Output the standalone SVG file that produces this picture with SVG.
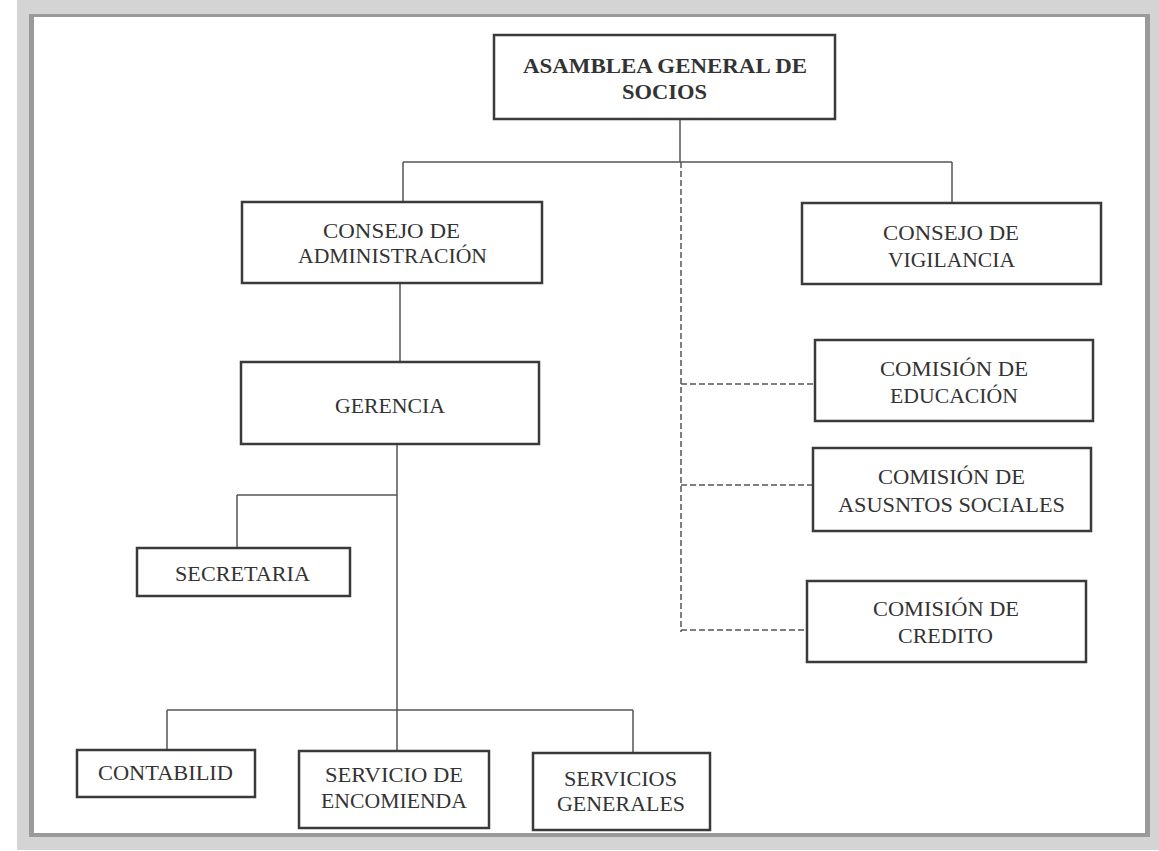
<svg xmlns="http://www.w3.org/2000/svg" width="1159" height="851" viewBox="0 0 1159 851">
<style>
.box{fill:#fff;stroke:#3a3a3a;stroke-width:2.5}
.t{font-family:"Liberation Serif","Times New Roman",serif;font-size:20px;fill:#333;text-anchor:middle}
.b{font-weight:bold}
.ln{stroke:#555;stroke-width:1.5;fill:none}
.ds{stroke:#555;stroke-width:1.5;fill:none;stroke-dasharray:6 3}
</style>
<rect x="0" y="0" width="1159" height="851" fill="#fff"/>
<rect x="17" y="0" width="1142" height="850" fill="#d4d4d4"/>
<rect x="29" y="14" width="1121" height="823" fill="#9a9a9a"/>
<rect x="34" y="17" width="1111" height="816" fill="#fff"/>
<g id="connectors">
<line class="ln" x1="680" y1="119" x2="680" y2="162"/>
<line class="ln" x1="403" y1="162" x2="952" y2="162"/>
<line class="ln" x1="403" y1="162" x2="403" y2="202"/>
<line class="ln" x1="952" y1="162" x2="952" y2="203"/>
<line class="ds" x1="681" y1="162" x2="681" y2="632"/>
<line class="ds" x1="681" y1="384" x2="815" y2="384"/>
<line class="ds" x1="681" y1="485" x2="813" y2="485"/>
<line class="ds" x1="681" y1="630" x2="807" y2="630"/>
<line class="ln" x1="400" y1="283" x2="400" y2="362"/>
<line class="ln" x1="397" y1="444" x2="397" y2="751"/>
<line class="ln" x1="237" y1="495" x2="397" y2="495"/>
<line class="ln" x1="237" y1="495" x2="237" y2="548"/>
<line class="ln" x1="167" y1="710" x2="633" y2="710"/>
<line class="ln" x1="167" y1="710" x2="167" y2="750"/>
<line class="ln" x1="633" y1="710" x2="633" y2="753"/>
</g>
<g id="asamblea">
<rect class="box" x="494" y="35" width="341" height="84"/>
<text class="t b" x="665" y="73" textLength="284" lengthAdjust="spacingAndGlyphs">ASAMBLEA GENERAL DE</text>
<text class="t b" x="664.5" y="99" textLength="85" lengthAdjust="spacingAndGlyphs">SOCIOS</text>
</g>
<g id="consejo-admin">
<rect class="box" x="242" y="202" width="300" height="81"/>
<text class="t" x="391.5" y="238" textLength="137" lengthAdjust="spacingAndGlyphs">CONSEJO DE</text>
<text class="t" x="392.5" y="263" textLength="189" lengthAdjust="spacingAndGlyphs">ADMINISTRACIÓN</text>
</g>
<g id="consejo-vigilancia">
<rect class="box" x="802" y="203" width="299" height="81"/>
<text class="t" x="951" y="240" textLength="136" lengthAdjust="spacingAndGlyphs">CONSEJO DE</text>
<text class="t" x="951.5" y="267" textLength="127" lengthAdjust="spacingAndGlyphs">VIGILANCIA</text>
</g>
<g id="comision-educacion">
<rect class="box" x="815" y="340" width="278" height="81"/>
<text class="t" x="954" y="376" textLength="148" lengthAdjust="spacingAndGlyphs">COMISIÓN DE</text>
<text class="t" x="954" y="403" textLength="128" lengthAdjust="spacingAndGlyphs">EDUCACIÓN</text>
</g>
<g id="comision-asuntos">
<rect class="box" x="813" y="448" width="278" height="83"/>
<text class="t" x="951.5" y="484" textLength="147" lengthAdjust="spacingAndGlyphs">COMISIÓN DE</text>
<text class="t" x="951.5" y="512" textLength="227" lengthAdjust="spacingAndGlyphs">ASUSNTOS SOCIALES</text>
</g>
<g id="comision-credito">
<rect class="box" x="807" y="581" width="279" height="81"/>
<text class="t" x="946" y="616" textLength="146" lengthAdjust="spacingAndGlyphs">COMISIÓN DE</text>
<text class="t" x="945.5" y="643" textLength="95" lengthAdjust="spacingAndGlyphs">CREDITO</text>
</g>
<g id="gerencia">
<rect class="box" x="241" y="362" width="298" height="82"/>
<text class="t" x="390" y="413" textLength="110" lengthAdjust="spacingAndGlyphs">GERENCIA</text>
</g>
<g id="secretaria">
<rect class="box" x="137" y="548" width="213" height="48"/>
<text class="t" x="242.5" y="581" textLength="135" lengthAdjust="spacingAndGlyphs">SECRETARIA</text>
</g>
<g id="contabilid">
<rect class="box" x="77" y="750" width="178" height="47"/>
<text class="t" x="165.5" y="780" textLength="135" lengthAdjust="spacingAndGlyphs">CONTABILID</text>
</g>
<g id="servicio-encomienda">
<rect class="box" x="299" y="751" width="190" height="77"/>
<text class="t" x="394" y="782" textLength="138" lengthAdjust="spacingAndGlyphs">SERVICIO DE</text>
<text class="t" x="394" y="808" textLength="146" lengthAdjust="spacingAndGlyphs">ENCOMIENDA</text>
</g>
<g id="servicios-generales">
<rect class="box" x="533" y="753" width="177" height="77"/>
<text class="t" x="620.5" y="786" textLength="113" lengthAdjust="spacingAndGlyphs">SERVICIOS</text>
<text class="t" x="621" y="811" textLength="128" lengthAdjust="spacingAndGlyphs">GENERALES</text>
</g>
</svg>
